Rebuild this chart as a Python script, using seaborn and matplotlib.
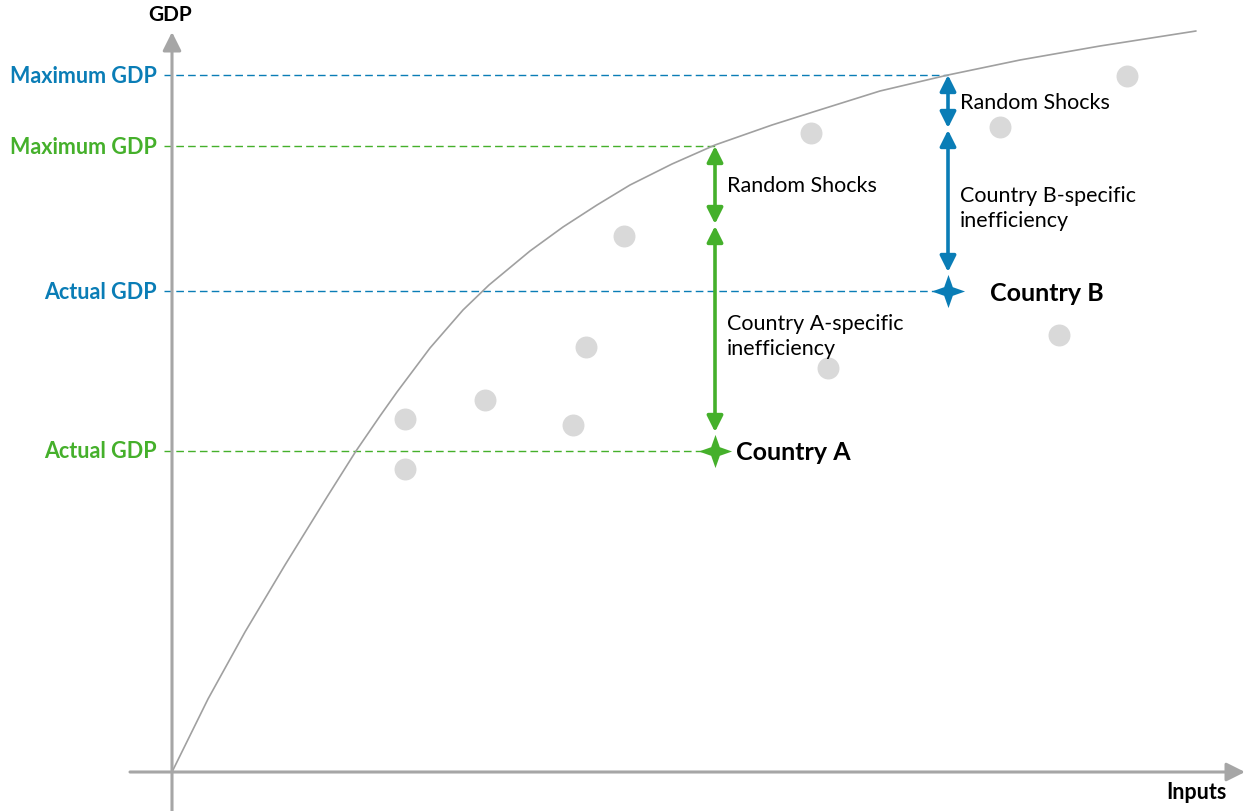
import numpy as np
import pandas as pd
import seaborn as sns
import matplotlib.pyplot as plt

# frontier curve (inputs, GDP)
curve_x = [0, 0.36, 0.73, 1.13, 1.55, 1.84, 2.08, 2.25, 2.58, 2.91, 3.17, 3.58, 3.91, 4.25,
           4.58, 5.00, 5.43, 6.00, 6.41, 7.08, 7.76, 8.48, 9.28, 10.24]
curve_y = [0, 0.73, 1.40, 2.07, 2.75, 3.21, 3.56, 3.80, 4.24, 4.62, 4.87, 5.21, 5.45, 5.67,
           5.87, 6.08, 6.27, 6.47, 6.60, 6.81, 6.97, 7.12, 7.26, 7.41]

# other countries (grey dots)
dots_x = [2.33, 2.33, 3.13, 4.01, 4.14, 4.52, 6.39, 6.56, 8.28, 8.87, 9.55]
dots_y = [3.53, 3.03, 3.72, 3.47, 4.25, 5.36, 6.39, 4.04, 6.45, 4.37, 6.96]

countries = ["Country A", "Country B"]
country_x = [5.43, 7.76]
actual_gdp = [3.21, 4.81]
stoch_gdp = [5.48, 6.44]
max_gdp = [6.26, 6.97]
colors = ["#45b02b", "#0a7db6"]
ineff_labels = ["Country A-specific\ninefficiency", "Country B-specific\ninefficiency"]

sns.set_style("white")
plt.rcParams["font.family"] = ["Lato", "DejaVu Sans"]
plt.rcParams["text.color"] = "black"

fig = plt.figure(figsize=(12.53, 8.12), dpi=100)
ax = fig.add_axes([0, 0, 1, 1])
ax.set_xlim(-1.72, 10.81)
ax.set_ylim(-0.39, 7.73)
ax.axis("off")

axis_col = "#a6a6a6"
ax.annotate("", xy=(0, 7.40), xytext=(0, -0.40),
            arrowprops=dict(arrowstyle="-|>", color=axis_col, lw=2.2, mutation_scale=28,
                            shrinkA=0, shrinkB=0))
ax.annotate("", xy=(10.73, 0), xytext=(-0.42, 0),
            arrowprops=dict(arrowstyle="-|>", color=axis_col, lw=2.2, mutation_scale=28,
                            shrinkA=0, shrinkB=0))
ax.text(-0.02, 7.58, "GDP", ha="center", va="center", fontsize=15, fontweight="bold")
ax.text(10.24, -0.20, "Inputs", ha="center", va="center", fontsize=15.5, fontweight="bold")

curve = pd.DataFrame({"x": curve_x, "y": curve_y})
sns.lineplot(data=curve, x="x", y="y", color="#a0a0a0", lw=1.2, sort=False,
             estimator=None, ax=ax)

dots = pd.DataFrame({"x": dots_x, "y": dots_y})
sns.scatterplot(data=dots, x="x", y="y", color="#d9d9d9", s=250, linewidth=0, ax=ax, zorder=2)

star = [(0, 1), (0.26, 0.26), (1, 0), (0.26, -0.26), (0, -1), (-0.26, -0.26), (-1, 0), (-0.26, 0.26)]

for i, name in enumerate(countries):
    c = colors[i]
    x = country_x[i]
    # dashed guide lines
    ax.plot([-0.08, x], [max_gdp[i], max_gdp[i]], color=c, lw=1, ls=(0, (5.5, 3)), zorder=1)
    ax.plot([-0.08, x], [actual_gdp[i], actual_gdp[i]], color=c, lw=1, ls=(0, (5.5, 3)), zorder=1)
    ax.text(-0.15, max_gdp[i], "Maximum GDP", color=c, ha="right", va="center",
            fontsize=15.5, fontweight="bold")
    ax.text(-0.15, actual_gdp[i], "Actual GDP", color=c, ha="right", va="center",
            fontsize=15.5, fontweight="bold")
    # double arrows
    ax.annotate("", xy=(x, max_gdp[i]), xytext=(x, stoch_gdp[i]),
                arrowprops=dict(arrowstyle="<|-|>", color=c, lw=2.6, mutation_scale=24,
                                shrinkA=0, shrinkB=0))
    ax.annotate("", xy=(x, stoch_gdp[i] - 0.02), xytext=(x, actual_gdp[i] + 0.19),
                arrowprops=dict(arrowstyle="<|-|>", color=c, lw=2.6, mutation_scale=24,
                                shrinkA=0, shrinkB=0))
    ax.text(x + 0.12, (max_gdp[i] + stoch_gdp[i]) / 2, "Random Shocks", ha="left",
            va="center", fontsize=15.5)
    ax.text(x + 0.12, (stoch_gdp[i] + actual_gdp[i]) / 2 + 0.02, ineff_labels[i], ha="left",
            va="center", fontsize=15.5, linespacing=1.3)
    sns.scatterplot(x=[x], y=[actual_gdp[i]], marker=star, s=570, color=c,
                    linewidth=0, ax=ax, zorder=4)
    ax.text(x + 0.21 + 0.21 * i, actual_gdp[i] - 0.01, name, ha="left", va="center",
            fontsize=18, fontweight="bold")

fig.savefig("out.png", dpi=100)
